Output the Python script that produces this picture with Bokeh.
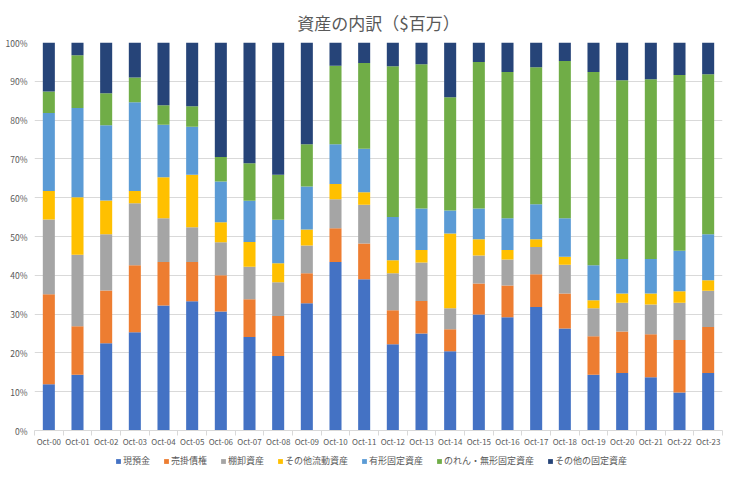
from bokeh.plotting import figure
from bokeh.layouts import column
from bokeh.models import (ColumnDataSource, Legend, LegendItem, FixedTicker,
                          NumeralTickFormatter, Range1d)
from bokeh.embed import file_html
from bokeh.resources import INLINE

categories = ["Oct-%02d" % y for y in range(0, 24)]

cash = [11.9, 14.4, 22.5, 25.3, 32.2, 33.3, 30.7, 24.1, 19.2, 32.8, 43.4, 39.0,
        22.2, 25.0, 20.4, 29.9, 29.2, 31.8, 26.3, 14.4, 14.8, 13.7, 9.8, 14.8]
receivables = [23.2, 12.5, 13.6, 17.3, 11.2, 10.1, 9.3, 9.7, 10.3, 7.7, 8.7, 9.2,
               8.8, 8.4, 5.7, 8.0, 8.2, 8.5, 9.0, 9.9, 10.7, 11.1, 13.5, 11.9]
inventory = [19.3, 18.4, 14.5, 16.0, 11.3, 9.0, 8.5, 8.4, 8.7, 7.2, 7.5, 10.0,
             9.5, 9.9, 5.4, 7.2, 6.7, 7.0, 7.4, 7.2, 7.4, 7.7, 9.6, 9.3]
other_current = [7.3, 14.8, 8.7, 3.1, 10.6, 13.5, 5.2, 6.4, 4.9, 4.1, 3.9, 3.2,
                 3.4, 3.2, 19.3, 4.2, 2.4, 2.0, 2.1, 2.1, 2.4, 2.8, 3.0, 2.7]
tangible = [20.1, 23.0, 19.4, 22.9, 13.5, 12.4, 10.5, 10.6, 11.2, 11.1, 10.3, 11.2,
            11.1, 10.7, 5.9, 7.9, 8.2, 9.0, 9.9, 9.0, 8.9, 8.9, 10.4, 11.9]
goodwill = [5.6, 13.6, 8.2, 6.4, 5.0, 5.3, 6.3, 9.7, 11.6, 10.9, 20.2, 22.1,
            38.9, 37.2, 29.2, 37.8, 37.7, 35.3, 40.5, 49.8, 46.1, 46.3, 45.3, 41.2]
other_fixed = [12.6, 3.3, 13.1, 9.0, 16.2, 16.4, 29.5, 31.1, 34.1, 26.2, 6.0, 5.3,
               6.1, 5.6, 14.1, 5.0, 7.6, 6.4, 4.8, 7.6, 9.7, 9.5, 8.4, 8.2]

series_names = ["現預金", "売掛債権", "棚卸資産", "その他流動資産", "有形固定資産",
                "のれん・無形固定資産", "その他の固定資産"]
series_values = [cash, receivables, inventory, other_current, tangible, goodwill, other_fixed]
colors = ["#4472C4", "#ED7D31", "#A5A5A5", "#FFC000", "#5B9BD5", "#70AD47", "#264478"]
y_ticks = [i / 10 for i in range(11)]

keys = ["s%d" % i for i in range(len(series_names))]
data = {"x": list(range(len(categories)))}
for k, vals in zip(keys, series_values):
    data[k] = [v / 100.0 for v in vals]
source = ColumnDataSource(data)

FONT = "Noto Sans CJK JP"
TXT = "#595959"
GRID = "#D9D9D9"

p = figure(frame_width=688, frame_height=388, output_backend="svg", toolbar_location=None,
           x_range=Range1d(-0.5, len(categories) - 0.5), y_range=Range1d(0, 1),
           min_border_left=34, min_border_right=2, min_border_top=42, min_border_bottom=19,
           title="資産の内訳（$百万）")
p.outline_line_color = None

p.title.align = "center"
p.title.text_font = FONT
p.title.text_font_size = "17px"
p.title.text_font_style = "normal"
p.title.text_color = TXT
p.title.standoff = 15
p.title.offset = -4

renderers = p.vbar_stack(keys, x="x", width=0.42, source=source, color=colors,
                         line_color=None)

# x axis
p.xaxis.ticker = FixedTicker(ticks=list(range(len(categories))),
                             minor_ticks=[i - 0.5 for i in range(len(categories) + 1)])
p.xaxis.major_label_overrides = {i: c for i, c in enumerate(categories)}
p.xaxis.major_tick_line_color = None
p.xaxis.major_tick_out = 0
p.xaxis.major_tick_in = 0
p.xaxis.minor_tick_line_color = GRID
p.xaxis.minor_tick_out = 5
p.xaxis.minor_tick_in = 0
p.xaxis.axis_line_color = GRID
p.xaxis.major_label_text_font = FONT
p.xaxis.major_label_text_font_size = "8px"
p.xaxis.major_label_text_color = TXT
p.xaxis.major_label_standoff = 0
p.xgrid.grid_line_color = None

# y axis
p.yaxis.ticker = FixedTicker(ticks=y_ticks)
p.yaxis.formatter = NumeralTickFormatter(format="0%")
p.yaxis.axis_line_color = None
p.yaxis.major_tick_line_color = None
p.yaxis.major_tick_out = 0
p.yaxis.major_tick_in = 0
p.yaxis.minor_tick_line_color = None
p.yaxis.major_label_text_font = FONT
p.yaxis.major_label_text_font_size = "8.5px"
p.yaxis.major_label_text_color = TXT
p.yaxis.major_label_standoff = 7
p.ygrid.grid_line_color = GRID

# legend strip: same stacked bars (hidden), used only for the legend swatches
lg = figure(width=724, height=24, output_backend="svg", toolbar_location=None,
            x_axis_type=None, y_axis_type=None, min_border=0,
            x_range=Range1d(100, 101), y_range=Range1d(100, 101))
lg.outline_line_color = None
lg.xgrid.grid_line_color = None
lg.ygrid.grid_line_color = None
lg_renderers = lg.vbar_stack(keys, x="x", width=0.42, source=source, color=colors,
                             line_color=None)
for r in lg_renderers:
    r.visible = False
items = [LegendItem(label=n, renderers=[r]) for n, r in zip(series_names, lg_renderers)]
legend = Legend(items=items, orientation="horizontal", location=(81, 6),
                label_text_font=FONT, label_text_font_size="9px", label_text_color=TXT,
                glyph_width=6, glyph_height=6, spacing=13, padding=0, margin=0,
                label_standoff=2, label_height=12, border_line_color=None,
                background_fill_alpha=0, inactive_fill_alpha=0)
lg.add_layout(legend, "center")

layout = column(p, lg, spacing=0)
open("out.html", "w").write(file_html(layout, INLINE))
